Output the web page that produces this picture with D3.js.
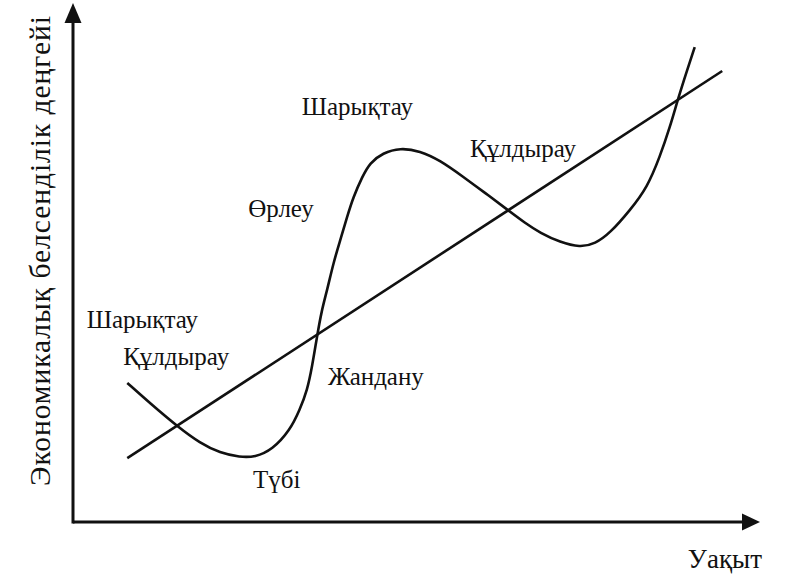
<!DOCTYPE html>
<html>
<head>
<meta charset="utf-8">
<script src="https://cdn.jsdelivr.net/npm/d3@7"></script>
<style>
    body { margin: 0; background: #fff; }
</style>
</head>
<body>
<div class="chart"></div>
<script>
// time (0..100) and activity level (0..100)
const cycleTime = [7.9, 11.2, 15.3, 18.5, 21.4, 24.3, 26.5, 29.0, 31.6, 33.0, 34.1, 34.8,
    35.5, 36.2, 37.0, 37.9, 38.9, 39.9, 40.8, 42.1, 43.2, 45.1, 47.6, 50.5, 53.4, 56.8,
    60.0, 63.3, 65.8, 68.0, 70.9, 73.8, 76.0, 78.2, 81.1, 83.6, 85.4, 86.9,
    88.1, 89.4, 90.5];
const cycleLevel = [26.8, 22.9, 18.3, 15.2, 13.3, 12.5, 12.5, 13.9, 17.7, 21.6, 25.4, 29.9,
    35.6, 40.8, 44.7, 49.9, 54.3, 58.8, 62.6, 66.5, 69.2, 71.1, 72.1, 71.5, 69.7, 66.5,
    63.4, 60.1, 57.6, 55.7, 53.9, 52.9, 53.6, 55.7, 60.1, 64.5, 70.3, 76.1,
    81.7, 87.1, 91.5];

const trendTime = [7.9, 94.5];
const trendLevel = [12.3, 86.9];

const phaseNames = ['Шарықтау', 'Құлдырау', 'Түбі', 'Жандану', 'Өрлеу', 'Шарықтау', 'Құлдырау'];
const phaseTime = [2.0, 7.3, 26.2, 37.1, 25.5, 33.3, 57.8];
const phaseLevel = [37.4, 30.2, 6.5, 26.4, 58.8, 78.4, 70.3];

const xTitle = 'Уақыт';
const yTitle = 'Экономикалық белсенділік деңгейі';

const serif = '"Liberation Serif", "Times New Roman", Times, "DejaVu Serif", serif';

const fullWidth = 800;
const fullHeight = 580;

const svg = d3.select('.chart')
    .append('svg')
        .attr('width', fullWidth)
        .attr('height', fullHeight);

const xScale = d3.scaleLinear()
    .domain([0, 100])
    .range([73, 760]);

const yScale = d3.scaleLinear()
    .domain([0, 100])
    .range([522, 3]);

// axes
svg.append('line')
    .attr('x1', xScale(0)).attr('y1', yScale(0))
    .attr('x2', xScale(100) - 10).attr('y2', yScale(0))
    .attr('stroke', '#111').attr('stroke-width', 3);

svg.append('line')
    .attr('x1', xScale(0)).attr('y1', yScale(0) + 1.5)
    .attr('x2', xScale(0)).attr('y2', yScale(100) + 10)
    .attr('stroke', '#111').attr('stroke-width', 3);

// arrow heads
const xTip = [xScale(100), yScale(0)];
svg.append('path')
    .attr('d', `M${xTip[0]},${xTip[1]} L${xTip[0] - 18},${xTip[1] - 8.5} L${xTip[0] - 18},${xTip[1] + 8.5} Z`)
    .attr('fill', '#111');

const yTip = [xScale(0), yScale(100)];
svg.append('path')
    .attr('d', `M${yTip[0]},${yTip[1]} L${yTip[0] - 8.5},${yTip[1] + 20} L${yTip[0] + 8.5},${yTip[1] + 20} Z`)
    .attr('fill', '#111');

// trend line
svg.append('line')
    .attr('x1', xScale(trendTime[0])).attr('y1', yScale(trendLevel[0]))
    .attr('x2', xScale(trendTime[1])).attr('y2', yScale(trendLevel[1]))
    .attr('stroke', '#111').attr('stroke-width', 2.6);

// business cycle curve
const cycle = cycleTime.map((t, i) => [t, cycleLevel[i]]);
const line = d3.line()
    .x(d => xScale(d[0]))
    .y(d => yScale(d[1]))
    .curve(d3.curveBasis);

svg.append('path')
    .datum(cycle)
    .attr('d', line)
    .attr('fill', 'none')
    .attr('stroke', '#111')
    .attr('stroke-width', 2.6);

// phase labels
svg.selectAll('text.phase')
    .data(phaseNames)
    .enter()
    .append('text')
    .attr('class', 'phase')
    .attr('x', (d, i) => xScale(phaseTime[i]))
    .attr('y', (d, i) => yScale(phaseLevel[i]))
    .attr('font-family', serif)
    .attr('font-size', 25)
    .attr('fill', '#111')
    .text(d => d);

// axis titles
svg.append('text')
    .attr('x', 762)
    .attr('y', 568)
    .attr('text-anchor', 'end')
    .attr('font-family', serif)
    .attr('font-size', 27)
    .attr('fill', '#111')
    .text(xTitle);

svg.append('text')
    .attr('transform', 'translate(50, 251) rotate(-90)')
    .attr('text-anchor', 'middle')
    .attr('font-family', serif)
    .attr('font-size', 29.5)
    .attr('textLength', 470)
    .attr('lengthAdjust', 'spacing')
    .attr('fill', '#111')
    .text(yTitle);
</script>
</body>
</html>
